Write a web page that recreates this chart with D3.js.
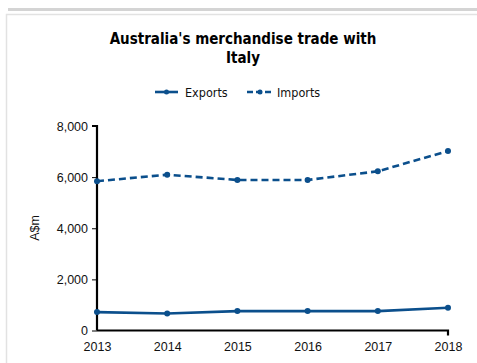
<!DOCTYPE html>
<html><head><meta charset="utf-8">
<script src="https://cdn.jsdelivr.net/npm/d3@7"></script>
<style>body{margin:0;background:#fff}svg{display:block}</style>
</head><body>
<svg id="c" width="477" height="363"></svg>
<script>
const years = [2013, 2014, 2015, 2016, 2017, 2018];
const exportsVals = [720, 665, 758, 758, 758, 887];
const importsVals = [5840, 6095, 5888, 5890, 6227, 7020];
const yTicks = [0, 2000, 4000, 6000, 8000];
const color = "#0b4f8c";

const svg = d3.select("#c");
// frame decorations
svg.append("rect").attr("x", 8).attr("y", 8).attr("width", 470).attr("height", 3).attr("fill", "#d4d4d4");
svg.append("rect").attr("x", 6.5).attr("y", 14.5).attr("width", 480).attr("height", 360)
  .attr("fill", "#fff").attr("stroke", "#e2e2e2").attr("stroke-width", 1.5);

const x = d3.scalePoint().domain(years).range([97, 448]);
const y = d3.scaleLinear().domain([0, 8000]).range([330.5, 126]);

// title
const title = svg.append("text").attr("text-anchor", "middle")
  .attr("font-family", "'DejaVu Sans Condensed', 'DejaVu Sans', sans-serif")
  .attr("font-weight", "bold").attr("font-size", 15).attr("fill", "#000");
title.append("tspan").attr("x", 243).attr("y", 44).text("Australia's merchandise trade with");
title.append("tspan").attr("x", 243).attr("y", 63).text("Italy");

// axes
const yAxis = svg.append("g").attr("transform", "translate(97,0)")
  .call(d3.axisLeft(y).tickValues(yTicks).tickSize(5).tickPadding(4).tickFormat(d3.format(",")));
const xAxis = svg.append("g").attr("transform", `translate(0,${y(0)})`)
  .call(d3.axisBottom(x).tickSize(0).tickPadding(12));
[yAxis, xAxis].forEach(g => {
  g.select(".domain").attr("stroke", "#000").attr("stroke-width", 2.2);
  g.selectAll(".tick line").attr("stroke", "#000").attr("stroke-width", 1);
  g.selectAll(".tick text").attr("font-family", "'Liberation Sans', Arial, sans-serif")
    .attr("font-size", 12.5).attr("fill", "#111");
});
xAxis.select(".domain").attr("d", `M97,0H448V5`);
yAxis.select(".domain").attr("d", `M-5,${y(8000)}H0V${y(0)}`);

svg.append("text").attr("transform", `translate(39,228) rotate(-90)`)
  .attr("text-anchor", "middle").attr("font-family", "'Liberation Sans', Arial, sans-serif")
  .attr("font-size", 12.5).attr("fill", "#111").text("A$m");

const line = d3.line().x((d, i) => x(years[i])).y(d => y(d));
const series = [
  {name: "Exports", vals: exportsVals, dash: null},
  {name: "Imports", vals: importsVals, dash: "7,4"}
];
series.forEach(s => {
  svg.append("path").attr("d", line(s.vals)).attr("fill", "none").attr("stroke", color)
    .attr("stroke-width", 2.6).attr("stroke-dasharray", s.dash);
  svg.selectAll(null).data(s.vals).enter().append("circle")
    .attr("cx", (d, i) => x(years[i])).attr("cy", d => y(d)).attr("r", 3).attr("fill", color);
});

// legend
const legend = [
  {name: "Exports", x1: 155, x2: 178, tx: 185, dash: null},
  {name: "Imports", x1: 247, x2: 273, tx: 277, dash: "6,3"}
];
legend.forEach(l => {
  svg.append("line").attr("x1", l.x1).attr("x2", l.x2).attr("y1", 92).attr("y2", 92)
    .attr("stroke", color).attr("stroke-width", 2.6).attr("stroke-dasharray", l.dash);
  svg.append("circle").attr("cx", (l.x1 + l.x2) / 2).attr("cy", 92).attr("r", 2.5).attr("fill", color);
  svg.append("text").attr("x", l.tx).attr("y", 96.5)
    .attr("font-family", "'DejaVu Sans Condensed', 'DejaVu Sans', sans-serif")
    .attr("font-size", 12.5).attr("fill", "#111").text(l.name);
});
</script>
</body></html>
